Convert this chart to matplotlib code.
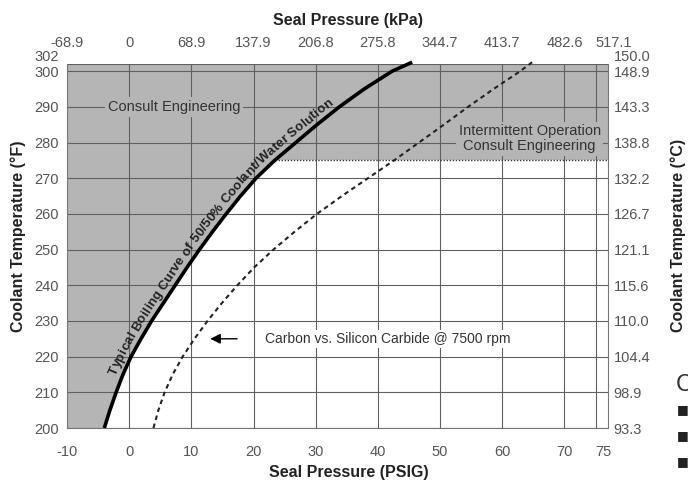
import numpy as np
import matplotlib
matplotlib.use("Agg")
import matplotlib.pyplot as plt
from matplotlib.font_manager import FontProperties

FAMILY = ['Liberation Sans Narrow', 'Liberation Sans', 'DejaVu Sans']
plt.rcParams['font.family'] = FAMILY

# ---- data ----
psig_ticks = [-10, 0, 10, 20, 30, 40, 50, 60, 70, 75]
kpa_labels = ["-68.9", "0", "68.9", "137.9", "206.8", "275.8", "344.7", "413.7", "482.6", "517.1"]
temp_f_ticks = [200, 210, 220, 230, 240, 250, 260, 270, 280, 290, 300, 302]
temp_c_labels = ["93.3", "98.9", "104.4", "110.0", "115.6", "121.1", "126.7",
                 "132.2", "138.8", "143.3", "148.9", "150.0"]

# typical boiling curve of 50/50 coolant/water (temperature F, pressure psig)
boil_temp = [200, 205, 210, 215, 220, 225, 230, 235, 240, 245, 250, 255, 260, 265, 270,
             275, 280, 285, 290, 295, 300, 302.5]
boil_psig = [-4.0, -3.1, -2.1, -1.0, 0.3, 1.9, 3.6, 5.5, 7.4, 9.3, 11.3, 13.4, 15.6,
             17.9, 20.4, 23.4, 26.8, 30.2, 33.8, 37.8, 42.3, 45.5]

# carbon vs silicon carbide @ 7500 rpm
seal_temp = [200, 205, 210, 215, 220, 225, 230, 235, 240, 245, 250, 255, 260, 265, 270,
             275, 280, 285, 290, 295, 300, 302.5]
seal_psig = [3.9, 4.7, 5.7, 7.0, 8.6, 10.5, 12.6, 14.9, 17.4, 20.1, 23.2, 26.6, 30.2,
             34.2, 38.4, 42.6, 46.6, 50.6, 54.5, 58.6, 62.9, 64.8]

intermittent_temp = 275

XMIN, XMAX = -10, 77
YMIN, YMAX = 200, 302

GRAY = "#b5b5b5"
GRID = "#606060"
TICKC = "#555555"
W, H = 688, 486

fig = plt.figure(figsize=(W/100, H/100), dpi=100)
ax = fig.add_axes([67/W, 1-428/H, (608-67)/W, (428-64)/H])
ax.set_xlim(XMIN, XMAX)
ax.set_ylim(YMIN, YMAX)

# shaded regions
ax.fill_betweenx(boil_temp, XMIN, boil_psig, color=GRAY, lw=0, zorder=0)
ax.axhspan(intermittent_temp, YMAX, color=GRAY, lw=0, zorder=0)

# grid
ax.set_xticks(psig_ticks)
ax.set_yticks(temp_f_ticks)
ax.grid(True, color=GRID, lw=0.8, zorder=1)
ax.set_axisbelow(True)
for s in ax.spines.values():
    s.set_color("#777777")
    s.set_linewidth(0.8)
ax.spines['top'].set_visible(False)

# intermittent dotted line from boiling curve to right edge
x_start = np.interp(intermittent_temp, boil_temp, boil_psig)
ax.plot([x_start, XMAX], [intermittent_temp, intermittent_temp], color="#333333",
        lw=1.0, ls=(0, (1, 1.2)), zorder=3)

# curves
ax.plot(boil_psig, boil_temp, color="black", lw=2.6, solid_capstyle='butt', zorder=4, clip_on=False)
ax.plot(seal_psig, seal_temp, color="#222222", lw=1.5, ls=(0, (2.2, 1.8)), zorder=4, clip_on=False)

# annotations
ax.text(7.2, 290, "Consult Engineering", fontsize=10.5, color="#333333", ha='center', va='center',
        bbox=dict(facecolor=GRAY, edgecolor='none', pad=2), zorder=5)
ax.text(64.4, 281, "Intermittent Operation\nConsult Engineering", fontsize=10.5, color="#333333",
        ha='center', va='center', linespacing=1.1,
        bbox=dict(facecolor=GRAY, edgecolor='none', pad=2), zorder=5)
ax.annotate("", xy=(12.6, 225), xytext=(17.8, 225),
            arrowprops=dict(arrowstyle='-|>', color='black', lw=1.0, mutation_scale=15), zorder=6)
ax.text(21.8, 225, "Carbon vs. Silicon Carbide @ 7500 rpm", fontsize=10, color="#333333",
        ha='left', va='center', bbox=dict(facecolor='white', edgecolor='none', pad=1.5), zorder=5)

# bottom axis
ax.tick_params(axis='both', length=0, labelsize=10.5, labelcolor=TICKC)
ax.tick_params(axis='x', pad=12)
ax.tick_params(axis='y', pad=6)
ax.set_xticklabels([str(t) for t in psig_ticks])
ax.set_yticklabels([str(t) for t in temp_f_ticks])
ax.get_yticklabels()[-1].set_verticalalignment('bottom')
ax.get_xticklabels()[-1].set_horizontalalignment('left')
ax.set_xlabel("Seal Pressure (PSIG)", fontsize=11.5, fontweight='bold', color="#222222")
ax.xaxis.set_label_coords(0.52, -0.102)
ax.set_ylabel("Coolant Temperature (°F)", fontsize=11.5, fontweight='bold', color="#222222")
ax.yaxis.set_label_coords(-0.076, 0.527)

# top axis (kPa)
axt = ax.twiny()
axt.set_xlim(XMIN, XMAX)
axt.set_xticks(psig_ticks)
axt.set_xticklabels(kpa_labels)
axt.tick_params(axis='x', length=0, labelsize=10.5, labelcolor=TICKC, pad=10)
axt.get_xticklabels()[-1].set_horizontalalignment('left')
axt.set_xlabel("Seal Pressure (kPa)", fontsize=11.5, fontweight='bold', color="#222222")
axt.xaxis.set_label_coords(0.52, 1.107)
for s in axt.spines.values():
    s.set_visible(False)

# right axis (C)
axr = ax.twinx()
axr.set_ylim(YMIN, YMAX)
axr.set_yticks(temp_f_ticks)
axr.set_yticklabels(temp_c_labels)
axr.tick_params(axis='y', length=0, labelsize=10.5, labelcolor=TICKC, pad=4)
axr.get_yticklabels()[-1].set_verticalalignment('bottom')
axr.set_ylabel("Coolant Temperature (°C)", fontsize=11.5, fontweight='bold', color="#222222")
axr.yaxis.set_label_coords(1.116, 0.53)
for s in axr.spines.values():
    s.set_visible(False)

# ---- label that follows the boiling curve ----
curve_label = "Typical Boiling Curve of 50/50% Coolant/Water Solution"
renderer = fig.canvas.get_renderer()
target_len = 350.0
fp10 = FontProperties(family=FAMILY, weight='bold', size=10)
w10 = renderer.get_text_width_height_descent(curve_label, fp10, ismath=False)[0]
fs = 10 * target_len / w10
fp = FontProperties(family=FAMILY, weight='bold', size=fs)

def tw(s):
    return renderer.get_text_width_height_descent(s, fp, ismath=False)[0] if s else 0.0

# guide path = the plotted boiling curve itself, in pixels
pts = ax.transData.transform(np.column_stack([boil_psig, boil_temp]))
seg = np.hypot(np.diff(pts[:, 0]), np.diff(pts[:, 1]))
arc = np.concatenate([[0], np.cumsum(seg)])
s0 = np.interp(214.0, boil_temp, arc)
offset = 6.0
wl = tw('l')
for i, ch in enumerate(curve_label):
    if ch == ' ':
        continue
    left = (tw(curve_label[:i] + 'l') - wl) if i > 0 else 0.0
    d = s0 + left + tw(ch) / 2
    px = np.interp(d, arc, pts[:, 0])
    py = np.interp(d, arc, pts[:, 1])
    px2 = np.interp(d + 8, arc, pts[:, 0]); py2 = np.interp(d + 8, arc, pts[:, 1])
    px1 = np.interp(d - 8, arc, pts[:, 0]); py1 = np.interp(d - 8, arc, pts[:, 1])
    dx, dy = px2 - px1, py2 - py1
    n = np.hypot(dx, dy)
    nx, ny = -dy / n, dx / n
    ang = np.degrees(np.arctan2(dy, dx))
    fig.text((px + nx * offset) / W, (py + ny * offset) / H, ch, fontproperties=fp,
             color="#222222", rotation=ang, rotation_mode='anchor', ha='center', va='baseline',
             zorder=6)

# fragments of neighbouring graphic at the right edge
fig.text(676/W, 1-385/H, "C", fontsize=17, color="#333333", ha='left', va='center')
for yy in [410, 436, 462]:
    fig.text(677/W, 1-yy/H, "■", fontsize=9, color="#222222", ha='left', va='center',
             family=['DejaVu Sans'])

fig.savefig("out.png", dpi=100)
